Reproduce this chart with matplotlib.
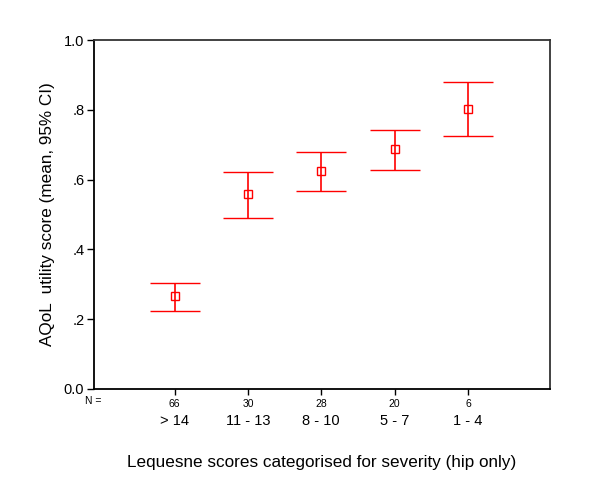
import matplotlib
matplotlib.use("Agg")
import matplotlib.pyplot as plt

plt.rcParams['font.family'] = ['Liberation Sans', 'DejaVu Sans']

categories = ["> 14", "11 - 13", "8 - 10", "5 - 7", "1 - 4"]
counts = ["66", "30", "28", "20", "6"]
means = [0.266, 0.559, 0.625, 0.687, 0.802]
lower = [0.223, 0.491, 0.568, 0.627, 0.725]
upper = [0.304, 0.621, 0.679, 0.743, 0.880]
yticks = [0.0, 0.2, 0.4, 0.6, 0.8, 1.0]
ytick_labels = ["0.0", ".2", ".4", ".6", ".8", "1.0"]

fig = plt.figure(figsize=(6, 5), dpi=100)
ax = fig.add_axes([94/600, 1-389/500, 456/600, 349/500])

x = list(range(len(categories)))
yerr = [[m - l for m, l in zip(means, lower)], [u - m for m, u in zip(means, upper)]]
ax.errorbar(x, means, yerr=yerr, fmt='s', color='#ff0000', mfc='none', mec='#ff0000',
            ms=6, mew=1.0, elinewidth=1.2, capsize=18, capthick=1.2, ecolor='#ff0000')

ax.set_xlim(-1.1, 5.12)
ax.set_ylim(0, 1.0)
ax.set_yticks(yticks)
ax.set_yticklabels(ytick_labels, fontsize=10.5)
ax.set_xticks(x)
ax.set_xticklabels(counts, fontsize=7.5)
ax.tick_params(axis='y', direction='out', length=5, width=1, pad=2)
ax.tick_params(axis='x', direction='out', length=4, width=1, pad=3)

for s in ax.spines.values():
    s.set_linewidth(1.3)
    s.set_color('black')
ax.spines['right'].set_color('#333333')
ax.spines['top'].set_color('#333333')

tr = ax.get_xaxis_transform()
for xi, c in zip(x, categories):
    ax.text(xi, -0.0917, c, transform=tr, ha='center', va='center', fontsize=10.5)
fig.text(93/600, 1-400.5/500, "N =", ha='center', va='center', fontsize=7.5)

fig.text(322/600, 1-463/500, "Lequesne scores categorised for severity (hip only)",
         ha='center', va='center', fontsize=12.3)
fig.text(47.5/600, 1-214.5/500, "AQoL  utility score (mean, 95% CI)",
         ha='center', va='center', rotation=90, fontsize=12.3)

fig.savefig("out.png", dpi=100)
